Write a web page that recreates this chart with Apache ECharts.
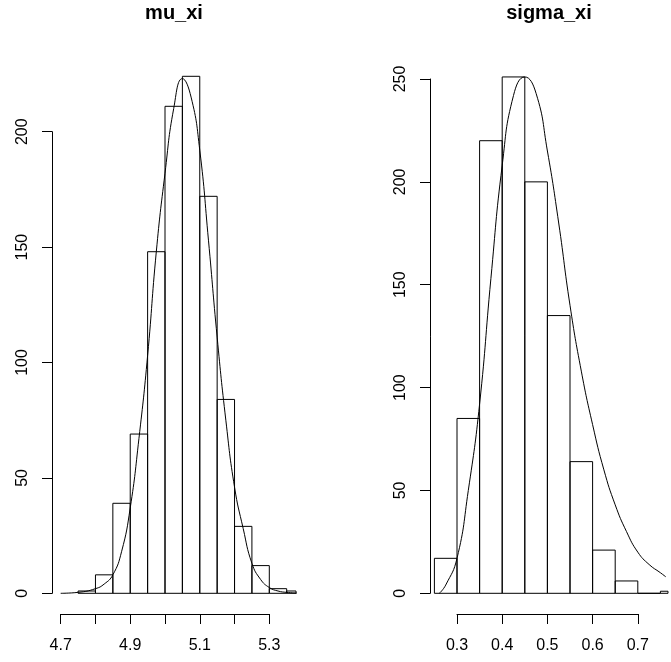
<!DOCTYPE html>
<html>
<head>
<meta charset="utf-8">
<script src="https://cdn.jsdelivr.net/npm/echarts@6/dist/echarts.min.js"></script>
<style>
html, body { margin: 0; padding: 0; background: #fff; }
#chart { width: 671px; height: 662px; }
</style>
</head>
<body>
<div id="chart"></div>
<script>
// mu_xi
var muBreaks = [4.75, 4.80, 4.85, 4.90, 4.95, 5.00, 5.05, 5.10, 5.15, 5.20, 5.25, 5.30, 5.35, 5.40];
var muCounts = [1, 8, 39, 69, 148, 211, 224, 172, 84, 29, 12, 2, 1];
var muCurveX = [4.70, 4.75, 4.80, 4.825, 4.85, 4.875, 4.90, 4.925, 4.95, 4.975, 5.00, 5.025, 5.05, 5.075, 5.10, 5.125, 5.15, 5.175, 5.20, 5.225, 5.25, 5.275, 5.30, 5.325, 5.35, 5.38];
var muCurveY = [0, 0.4, 2, 4, 8, 18, 37, 67, 103, 148, 182, 210, 223, 215, 192, 153, 111, 75, 46, 28, 13, 6, 2.5, 1, 0.4, 0.1];
var muXTicks = [4.7, 4.8, 4.9, 5.0, 5.1, 5.2, 5.3];
var muXLabels = ["4.7", "", "4.9", "", "5.1", "", "5.3"];
var muYTicks = [0, 50, 100, 150, 200];

// sigma_xi
var sigmaBreaks = [0.25, 0.30, 0.35, 0.40, 0.45, 0.50, 0.55, 0.60, 0.65, 0.70, 0.75, 0.80];
var sigmaCounts = [17, 85, 220, 251, 200, 135, 64, 21, 6, 0, 1];
var sigmaCurveX = [0.261, 0.275, 0.30, 0.325, 0.35, 0.375, 0.40, 0.425, 0.45, 0.475, 0.50, 0.525, 0.55, 0.575, 0.60, 0.625, 0.65, 0.675, 0.70, 0.725, 0.75, 0.762];
var sigmaCurveY = [0, 4, 17, 50, 92, 153, 208, 242, 251, 243, 215, 180, 140, 108, 82, 60, 43, 30, 20, 14, 10, 8];
var sigmaXTicks = [0.3, 0.4, 0.5, 0.6, 0.7];
var sigmaXLabels = ["0.3", "0.4", "0.5", "0.6", "0.7"];
var sigmaYTicks = [0, 50, 100, 150, 200, 250];

var FONT = "Liberation Sans, Arial, Helvetica, sans-serif";

var panels = [
  {
    name: "mu_xi", breaks: muBreaks, counts: muCounts, cx: muCurveX, cy: muCurveY,
    xTicks: muXTicks, xLabels: muXLabels, yTicks: muYTicks,
    plot: { left: 52, top: 56, width: 244, height: 558 },
    axis: { left: 60.7, top: 131.7, width: 208.6, height: 461.6 }
  },
  {
    name: "sigma_xi", breaks: sigmaBreaks, counts: sigmaCounts, cx: sigmaCurveX, cy: sigmaCurveY,
    xTicks: sigmaXTicks, xLabels: sigmaXLabels, yTicks: sigmaYTicks,
    plot: { left: 430, top: 56, width: 238, height: 558 },
    axis: { left: 457, top: 79, width: 180.8, height: 514.3 }
  }
];

var grids = [], xAxes = [], yAxes = [], series = [], titles = [];

panels.forEach(function (p, i) {
  var xMin = p.xTicks[0], xMax = p.xTicks[p.xTicks.length - 1];
  var yMin = p.yTicks[0], yMax = p.yTicks[p.yTicks.length - 1];
  var xs = (xMax - xMin) / p.axis.width, ys = (yMax - yMin) / p.axis.height;
  // plot region range extrapolated from the axis extent
  var pxMin = xMin - (p.axis.left - p.plot.left) * xs;
  var pxMax = xMin + (p.plot.left + p.plot.width - p.axis.left) * xs;
  var axBottom = p.axis.top + p.axis.height, plBottom = p.plot.top + p.plot.height;
  var pyMin = yMin - (plBottom - axBottom) * ys;
  var pyMax = yMin + (axBottom - p.plot.top) * ys;

  var gPlot = grids.length;
  grids.push({ left: p.plot.left, top: p.plot.top, width: p.plot.width, height: p.plot.height, containLabel: false });
  xAxes.push({ type: "value", gridIndex: gPlot, min: pxMin, max: pxMax, show: false });
  yAxes.push({ type: "value", gridIndex: gPlot, min: pyMin, max: pyMax, show: false });

  var gAxis = grids.length;
  grids.push({ left: p.axis.left, top: p.axis.top, width: p.axis.width, height: p.axis.height, containLabel: false });
  xAxes.push({
    type: "value", gridIndex: gAxis, min: xMin, max: xMax, interval: p.xTicks[1] - p.xTicks[0],
    position: "bottom", offset: plBottom - axBottom,
    axisLine: { show: true, onZero: false, lineStyle: { color: "#000", width: 1 } },
    axisTick: { show: true, length: 10, lineStyle: { color: "#000" } },
    splitLine: { show: false },
    axisLabel: {
      margin: 24, fontSize: 16, color: "#000", fontFamily: FONT,
      formatter: function (v) {
        for (var k = 0; k < p.xTicks.length; k++) {
          if (Math.abs(p.xTicks[k] - v) < 1e-6) return p.xLabels[k];
        }
        return "";
      }
    }
  });
  yAxes.push({
    type: "value", gridIndex: gAxis, min: yMin, max: yMax, interval: p.yTicks[1] - p.yTicks[0],
    position: "left", offset: p.axis.left - p.plot.left,
    axisLine: { show: true, onZero: false, lineStyle: { color: "#000", width: 1 } },
    axisTick: { show: true, length: 10, lineStyle: { color: "#000" } },
    splitLine: { show: false },
    axisLabel: { margin: 21, rotate: 90, fontSize: 16, color: "#000", fontFamily: FONT }
  });

  var bins = p.counts.map(function (c, k) { return [p.breaks[k], p.breaks[k + 1], c]; });
  series.push({
    type: "custom",
    xAxisIndex: gPlot, yAxisIndex: gPlot,
    data: bins,
    renderItem: function (params, api) {
      var a = api.coord([api.value(0), api.value(2)]);
      var b = api.coord([api.value(1), 0]);
      var shape = echarts.graphic.clipRectByRect(
        { x: a[0], y: a[1], width: b[0] - a[0], height: b[1] - a[1] },
        { x: params.coordSys.x, y: params.coordSys.y, width: params.coordSys.width, height: params.coordSys.height }
      );
      if (!shape) return;
      return { type: "rect", shape: shape, style: { fill: "none", stroke: "#000", lineWidth: 1 } };
    },
    silent: true, animation: false
  });
  series.push({
    type: "line",
    xAxisIndex: gPlot, yAxisIndex: gPlot,
    data: p.cx.map(function (x, k) { return [x, p.cy[k]]; }),
    smooth: 0.5,
    symbol: "none", clip: true,
    lineStyle: { color: "#000", width: 1 },
    silent: true, animation: false
  });

  titles.push({
    text: p.name, left: p.plot.left + p.plot.width / 2, top: 3, textAlign: "center", padding: 0,
    textStyle: { fontSize: 20, fontWeight: "bold", color: "#000", fontFamily: FONT }
  });
});

var chart = echarts.init(document.getElementById("chart"), null, { renderer: "canvas" });
chart.setOption({
  backgroundColor: "#fff",
  animation: false,
  title: titles,
  grid: grids,
  xAxis: xAxes,
  yAxis: yAxes,
  series: series
});
</script>
</body>
</html>
